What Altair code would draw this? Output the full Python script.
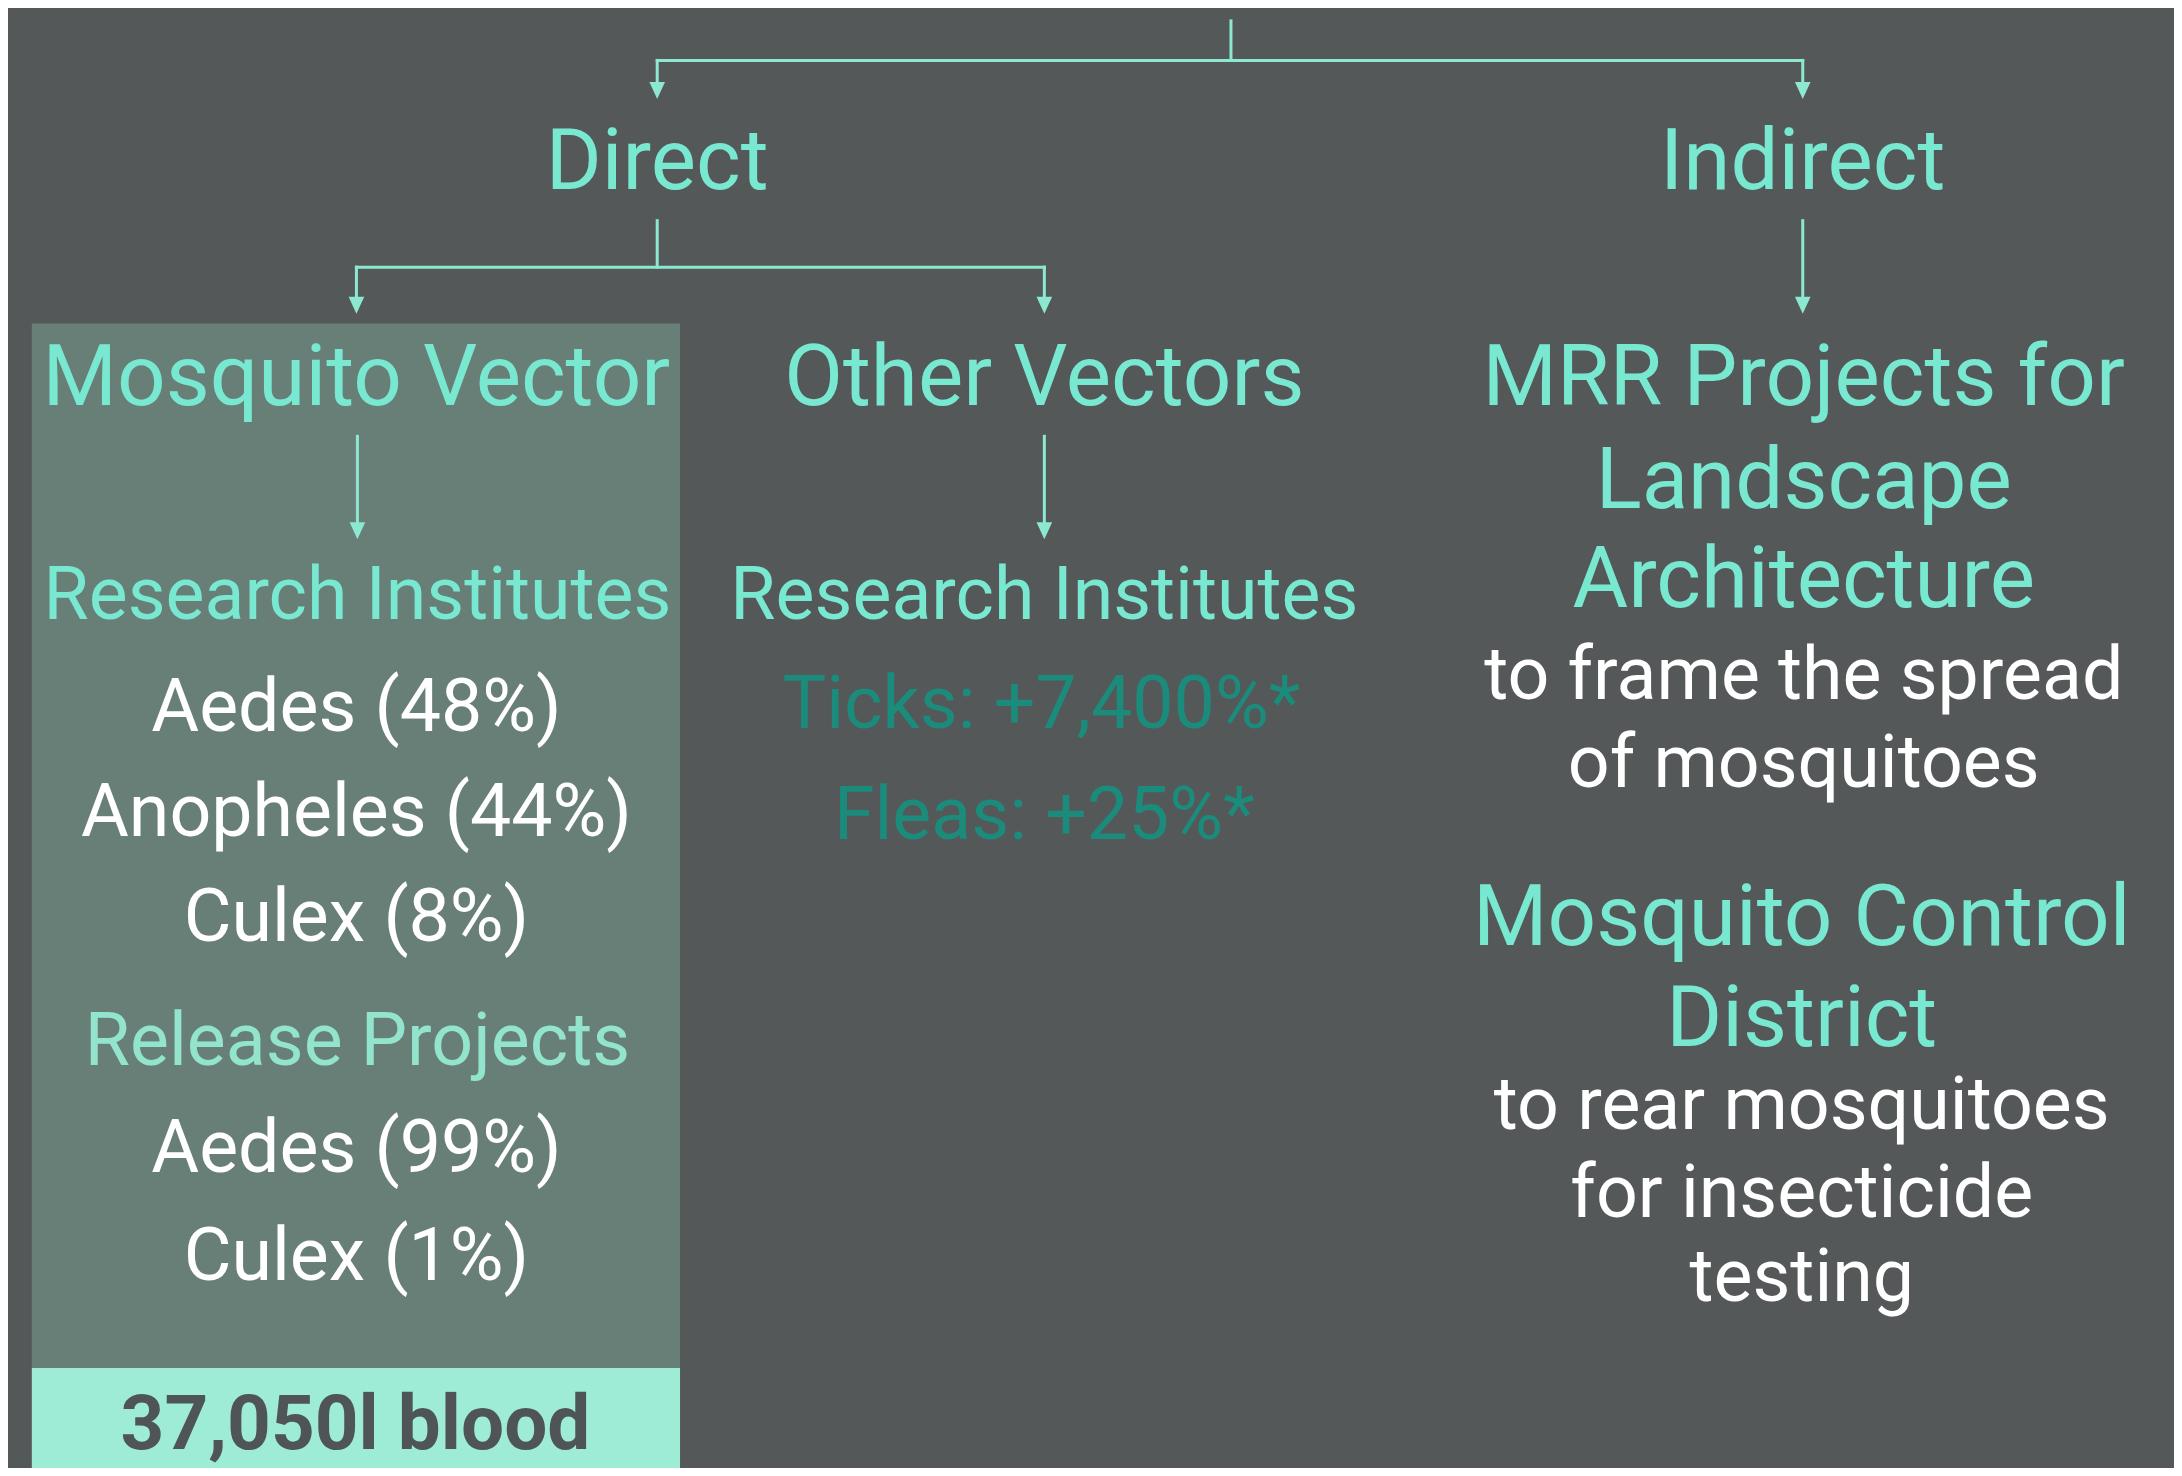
import altair as alt
import pandas as pd

# reference canvas and drawing area
W_REF, H_REF = 2182, 1476
W, H = 2166, 1460
K = W / W_REF

BG = "#545859"
TEAL = "#79e8d0"
LINE = "#8de8d2"
PALE = "#93e4cd"
DARK_TEAL = "#1b8b7b"
WHITE = "#ffffff"
BOX = "#687f78"
BAND = "#9eecd6"
BAND_TEXT = "#4f5456"

# ---- texts of the diagram ----
headers = ["Direct", "Indirect", "Mosquito Vector", "Other Vectors",
           "MRR Projects for", "Landscape", "Architecture",
           "Mosquito Control", "District"]
subheaders = ["Research Institutes", "Research Institutes", "Release Projects"]
details = ["Aedes (48%)", "Anopheles (44%)", "Culex (8%)", "Aedes (99%)", "Culex (1%)",
           "to frame the spread", "of mosquitoes",
           "to rear mosquitoes", "for insecticide", "testing"]
other_vectors = ["Ticks: +7,400%*", "Fleas: +25%*"]
total = ["37,050l blood"]

# ---- layout (reference pixel space) ----
headers_x = [654, 1808, 351, 1044, 1809, 1809, 1809, 1807, 1807]
headers_y = [183, 183, 401, 401, 401, 505, 606, 947, 1049]
sub_x = [352, 1044, 352]
sub_y = [618, 618, 1069]
sub_col = [TEAL, TEAL, PALE]
det_x = [351, 351, 351, 351, 351, 1809, 1809, 1807, 1807, 1807]
det_y = [731, 837, 943, 1177, 1286, 699, 788, 1133, 1222, 1307]
ov_x = [1041, 1044]
ov_y = [728, 840]
total_x = [350]
total_y = [1457]

# connector segments (x1, y1, x2, y2)
seg_x1 = [1232, 654, 654, 1808, 654, 351, 351, 1044, 1808, 352, 1044]
seg_y1 = [13, 53, 53, 53, 215, 262, 262, 262, 215, 433, 433]
seg_x2 = [1232, 1808, 654, 1808, 654, 1044, 351, 1044, 1808, 352, 1044]
seg_y2 = [53, 53, 80, 80, 262, 262, 296, 296, 296, 525, 525]
# arrow tips
tip_x = [654, 1808, 351, 1044, 1808, 352, 1044]
tip_y = [92, 92, 309, 309, 309, 537, 537]
ARROW = 17  # arrowhead height in px

# boxes
rect_x1 = [24, 24]
rect_x2 = [677, 677]
rect_y1 = [319, 1375]
rect_y2 = [1375, 1476]
rect_col = [BOX, BAND]

xs = alt.Scale(domain=[0, W_REF], nice=False, zero=False)
ys = alt.Scale(domain=[0, H_REF], nice=False, zero=False, reverse=True)


def X(f="x"):
    return alt.X(f"{f}:Q", scale=xs, axis=None)


def Y(f="y"):
    return alt.Y(f"{f}:Q", scale=ys, axis=None)


rects = alt.Chart(pd.DataFrame({"x": rect_x1, "x2": rect_x2, "y": rect_y1,
                                "y2": rect_y2, "c": rect_col})).mark_rect().encode(
    x=X(), x2="x2:Q", y=Y(), y2="y2:Q", color=alt.Color("c:N", scale=None))

rules = alt.Chart(pd.DataFrame({"x": seg_x1, "y": seg_y1, "x2": seg_x2,
                                "y2": seg_y2})).mark_rule(
    color=LINE, strokeWidth=3, strokeCap="square").encode(x=X(), y=Y(), x2="x2:Q", y2="y2:Q")

# custom path: unit coordinates map to half the symbol side
heads = alt.Chart(pd.DataFrame({"x": tip_x,
                                "y": [t - ARROW / 2 for t in tip_y]})).mark_point(
    shape="M-0.92,-1L0.92,-1L0,1Z", filled=True, size=ARROW ** 2,
    color=LINE, opacity=1, strokeWidth=0).encode(x=X(), y=Y())


def texts(lbls, xv, yv, size, colors, weight="normal"):
    df = pd.DataFrame({"t": lbls, "x": xv, "y": yv,
                       "c": colors if isinstance(colors, list) else [colors] * len(lbls)})
    return alt.Chart(df).mark_text(
        font="Roboto", fontSize=size * K, fontWeight=weight,
        align="center", baseline="alphabetic").encode(
        x=X(), y=Y(), text="t:N", color=alt.Color("c:N", scale=None))


layers = [
    rects, rules, heads,
    texts(headers, headers_x, headers_y, 86, TEAL),
    texts(subheaders, sub_x, sub_y, 74, sub_col),
    texts(details, det_x, det_y, 74, WHITE),
    texts(other_vectors, ov_x, ov_y, 74, DARK_TEAL),
    texts(total, total_x, total_y, 77, BAND_TEXT, "bold"),
]

chart = alt.layer(*layers).properties(
    width=W, height=H, padding=0, autosize=alt.AutoSizeParams(type="none"),
    background=BG
).configure_view(stroke=None)

chart.save("out.html", embed_options={"renderer": "svg", "actions": False})
